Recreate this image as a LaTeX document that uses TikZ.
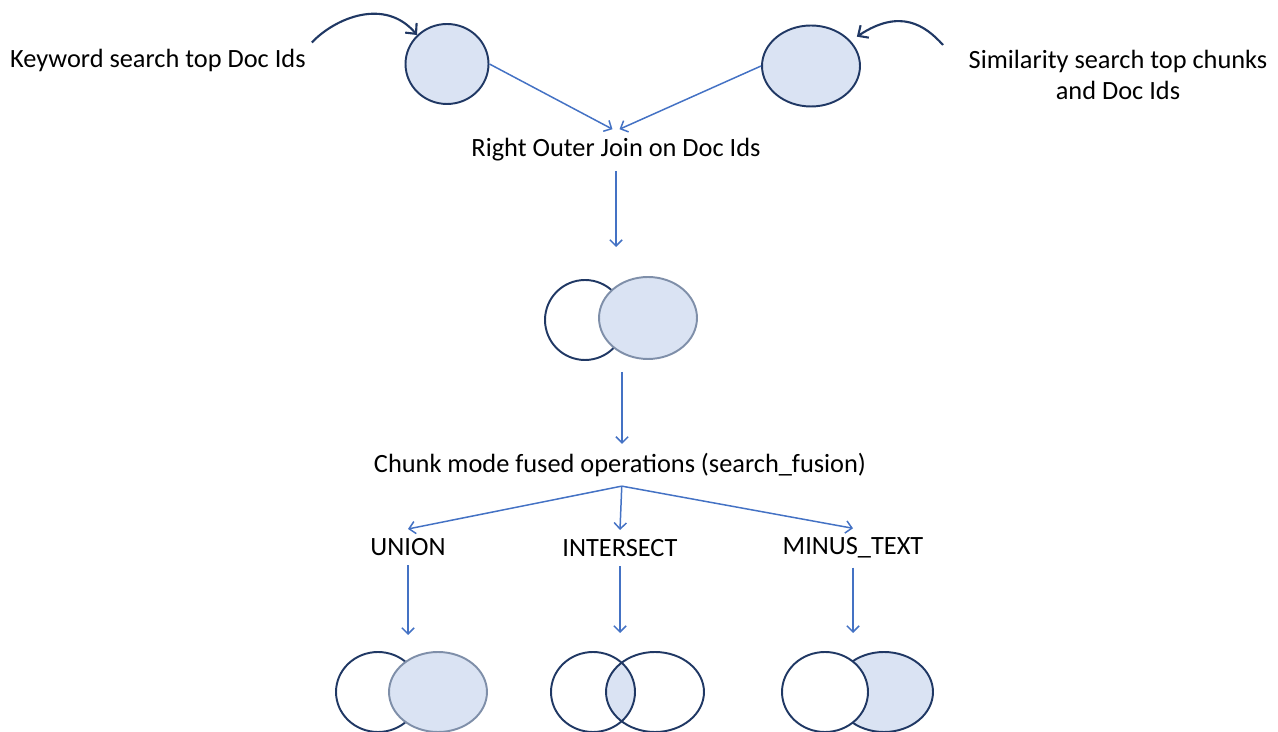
\documentclass[tikz,border=0pt]{standalone}
\usepackage{fontspec}
\setmainfont{Carlito}
\usetikzlibrary{shapes.geometric,arrows.meta,positioning}
\definecolor{setfill}{HTML}{DAE3F3}
\definecolor{setline}{HTML}{203864}
\definecolor{setgrey}{HTML}{7F8FA9}
\definecolor{flowblue}{HTML}{4472C4}

\begin{document}
\begin{tikzpicture}[x=0.02cm,y=-0.02cm,
    every node/.style={font=\fontsize{15}{17.6}\selectfont}]
  \tikzstyle{docset} = [ellipse, draw=setline, line width=1.1pt, fill=setfill,
      inner sep=0pt]
  \tikzstyle{label} = [align=center, outer sep=2pt]
  \tikzstyle{arrow} = [-{Straight Barb[length=3.5pt,width=7pt]}, draw=flowblue,
      line width=0.85pt]
  \tikzstyle{feed} = [-{Straight Barb[length=4.5pt,width=8.5pt]}, draw=setline,
      line width=1.2pt]
  \tikzstyle{venn} = [draw=setline, line width=1.1pt]
  \useasboundingbox (0,0) rectangle (1278,732);

  % Inputs: the two result sets at the top
  \node (kwset)   [docset, minimum width=1.66cm, minimum height=1.6cm]  at (447,64) {};
  \node (simset)  [docset, minimum width=1.96cm, minimum height=1.62cm] at (811,66) {};
  \node (kwtext)  [anchor=west] at (4,60) {Keyword search top Doc Ids};
  \node (simtext) [label] at (1118,75) {Similarity search top chunks\\and Doc Ids};
  \coordinate (simtail) at (943,45);

  \draw[feed] (kwtext.north east) .. controls (335,18) and (385,-3) .. (kwset.north west);
  \draw[feed] (simtail) .. controls (925,25) and (900,8) .. ([xshift=6pt]simset.north east);

  % Join step
  \node (join) [label] at (616,150) {Right Outer Join on Doc Ids};
  \draw[arrow] (kwset.east) -- ([xshift=-2pt]join.north);
  \draw[arrow] (simset.west) -- ([xshift=2pt]join.north);

  \coordinate (midin)  at (616,247);
  \coordinate (midout) at (622,372);
  \draw[arrow] (join.south) -- (midin);

  % Joined result: right set covers the left one
  \draw[venn, fill=white] (585,320) ellipse [x radius=0.8cm, y radius=0.8cm];
  \draw[venn, draw=setgrey, fill=setfill] (648,318) ellipse [x radius=0.98cm, y radius=0.82cm];

  % Fused operations
  \node (fused) [label] at (620,465) {Chunk mode fused operations (search\_fusion)};
  \draw[arrow] (midout) -- (midout |- fused.north);

  \node (union)     [label] at (408,547) {UNION};
  \node (intersect) [label] at (620,548) {INTERSECT};
  \node (minus)     [label] at (853,548) {MINUS\_TEXT};
  \draw[arrow] ([xshift=1pt]fused.south) -- (union.north);
  \draw[arrow] ([xshift=1pt]fused.south) -- (intersect.north);
  \draw[arrow] ([xshift=1pt]fused.south) -- (minus.north);

  \coordinate (unionin)     at (408,635);
  \coordinate (intersectin) at (620,633);
  \coordinate (minusin)     at (853,633);
  \draw[arrow] (union.south) -- (unionin);
  \draw[arrow] (intersect.south) -- (intersectin);
  \draw[arrow] (minus.south) -- (minusin);

  % UNION
  \draw[venn, fill=white] (378,692) ellipse [x radius=0.84cm, y radius=0.8cm];
  \draw[venn, draw=setgrey, fill=setfill] (438,692) ellipse [x radius=0.98cm, y radius=0.8cm];

  % INTERSECT: only the lens is filled
  \begin{scope}
    \clip (593,692) ellipse [x radius=0.84cm, y radius=0.8cm];
    \fill[setfill] (655,692) ellipse [x radius=0.98cm, y radius=0.8cm];
  \end{scope}
  \draw[venn] (593,692) ellipse [x radius=0.84cm, y radius=0.8cm];
  \draw[venn] (655,692) ellipse [x radius=0.98cm, y radius=0.8cm];

  % MINUS_TEXT: right set without the left one
  \draw[venn, fill=setfill] (884,692) ellipse [x radius=0.98cm, y radius=0.8cm];
  \draw[venn, fill=white] (825,692) ellipse [x radius=0.86cm, y radius=0.8cm];
\end{tikzpicture}
\end{document}
